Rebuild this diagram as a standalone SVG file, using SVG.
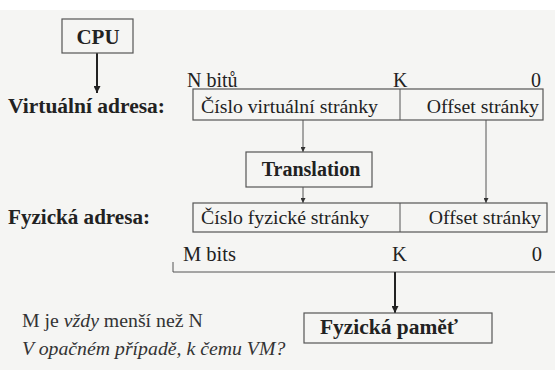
<svg xmlns="http://www.w3.org/2000/svg" width="555" height="370" viewBox="0 0 555 370">
  <defs>
    <marker id="arrow" viewBox="0 0 10 10" refX="10" refY="5" markerWidth="8" markerHeight="7" markerUnits="userSpaceOnUse" orient="auto">
      <path d="M0,0 L10,5 L0,10 z" fill="#222"/>
    </marker>
    <marker id="arrowSmall" viewBox="0 0 10 10" refX="10" refY="5" markerWidth="5" markerHeight="5" markerUnits="userSpaceOnUse" orient="auto">
      <path d="M0,0 L10,5 L0,10 z" fill="#333"/>
    </marker>
  </defs>
  <style>
    .box { fill: none; stroke: #555; stroke-width: 1.2; }
    .thin { stroke: #555; stroke-width: 1; fill: none; }
    .thick { stroke: #222; stroke-width: 2; fill: none; }
  </style>

  <!-- paper background -->
  <rect x="0" y="0" width="555" height="370" fill="#f5f5f3"/>
  <rect x="0" y="0" width="555" height="10" fill="#ffffff"/>

  <!-- connectors -->
  <g id="connectors">
    <line class="thick" x1="97" y1="53" x2="97" y2="93" marker-end="url(#arrow)"/>
    <line class="thin" x1="303" y1="120" x2="303" y2="152" marker-end="url(#arrowSmall)"/>
    <line class="thin" x1="303" y1="187" x2="303" y2="203" marker-end="url(#arrowSmall)"/>
    <line class="thin" x1="486" y1="120" x2="486" y2="203" marker-end="url(#arrowSmall)"/>
    <polyline class="thin" points="173,262 173,272 555,272"/>
    <line class="thick" x1="395" y1="272" x2="395" y2="313" marker-end="url(#arrow)"/>
  </g>

  <!-- CPU -->
  <g id="cpu">
    <rect class="box" x="62" y="19" width="71" height="34"/>
    <text x="98" y="44" text-anchor="middle" font-family="Liberation Serif, serif" font-size="21" font-weight="bold" fill="#222">CPU</text>
  </g>

  <!-- virtual address -->
  <g id="virtual-address" font-family="Liberation Serif, serif" fill="#222">
    <text x="8" y="113" font-family="Liberation Serif, serif" font-size="20" font-weight="bold" textLength="157" lengthAdjust="spacingAndGlyphs">Virtuální adresa:</text>
    <text x="187" y="87" font-family="Liberation Serif, serif" font-size="20">N bitů</text>
    <text x="393" y="87" font-family="Liberation Serif, serif" font-size="20">K</text>
    <text x="541" y="87" text-anchor="end" font-family="Liberation Serif, serif" font-size="20">0</text>
    <rect class="box" x="193" y="89" width="350" height="31"/>
    <line class="thin" x1="400" y1="89" x2="400" y2="120"/>
    <text x="201" y="113" font-family="Liberation Serif, serif" font-size="19.8">Číslo virtuální stránky</text>
    <text x="539" y="113" text-anchor="end" font-family="Liberation Serif, serif" font-size="19.8">Offset stránky</text>
  </g>

  <!-- translation -->
  <g id="translation">
    <rect class="box" x="246" y="152" width="126" height="35"/>
    <text x="311" y="176" text-anchor="middle" font-family="Liberation Serif, serif" font-size="20" font-weight="bold" fill="#222">Translation</text>
  </g>

  <!-- physical address -->
  <g id="physical-address" font-family="Liberation Serif, serif" fill="#222">
    <text x="8" y="224" font-family="Liberation Serif, serif" font-size="20" font-weight="bold" textLength="142" lengthAdjust="spacingAndGlyphs">Fyzická adresa:</text>
    <rect class="box" x="193" y="203" width="354" height="29"/>
    <line class="thin" x1="400" y1="203" x2="400" y2="232"/>
    <text x="201" y="224" font-family="Liberation Serif, serif" font-size="19.8">Číslo fyzické stránky</text>
    <text x="541" y="224" text-anchor="end" font-family="Liberation Serif, serif" font-size="19.8">Offset stránky</text>
    <text x="183" y="261" font-family="Liberation Serif, serif" font-size="20.5">M bits</text>
    <text x="392" y="261" font-family="Liberation Serif, serif" font-size="20.5">K</text>
    <text x="542" y="261" text-anchor="end" font-family="Liberation Serif, serif" font-size="20.5">0</text>
  </g>

  <!-- physical memory -->
  <g id="physical-memory">
    <rect class="box" x="304" y="313" width="188" height="30"/>
    <text x="320" y="334" font-family="Liberation Serif, serif" font-size="20.5" font-weight="bold" fill="#222" textLength="138" lengthAdjust="spacingAndGlyphs">Fyzická paměť</text>
  </g>

  <!-- notes -->
  <g id="notes" fill="#333">
    <text x="22" y="327" font-family="Liberation Serif, serif" font-size="19.8">M je <tspan font-style="italic">vždy</tspan> menší než N</text>
    <text x="22" y="355" font-family="Liberation Serif, serif" font-size="19.8" font-style="italic">V opačném případě, k čemu VM?</text>
  </g>
</svg>
